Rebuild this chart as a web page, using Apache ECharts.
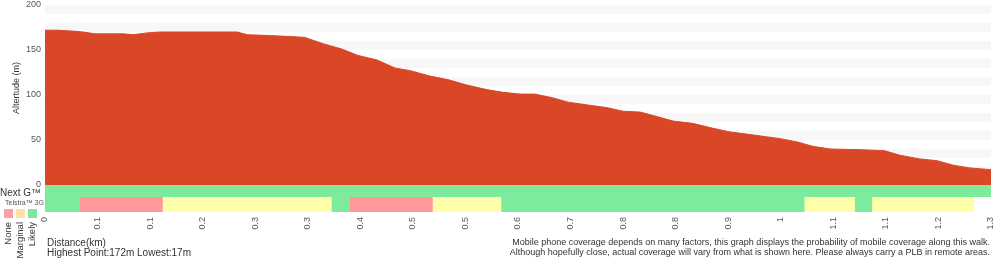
<!DOCTYPE html>
<html lang="en">
<head>
    <meta charset="UTF-8">
    <title>elevation</title>
    <script src="https://cdn.jsdelivr.net/npm/echarts@6/dist/echarts.min.js"></script>
    <style>
        body { margin: 0; background: #fff; }
        #main { width: 1000px; height: 260px; }
    </style>
</head>
<body>
    <div id="main"></div>
    <script type="text/javascript">
        // distance (km) along the walk
        var distances = [0, 0.018, 0.037, 0.052, 0.069, 0.107, 0.121, 0.140, 0.158, 0.264,
            0.278, 0.309, 0.337, 0.357, 0.382, 0.408, 0.430, 0.456, 0.481, 0.502,
            0.529, 0.554, 0.580, 0.607, 0.629, 0.653, 0.673, 0.697, 0.719, 0.745,
            0.772, 0.794, 0.818, 0.841, 0.863, 0.890, 0.918, 0.941, 0.969, 1.010,
            1.033, 1.055, 1.079, 1.130, 1.154, 1.175, 1.202, 1.226, 1.248, 1.271, 1.3];
        // altitude (m)
        var altitudes = [172, 172, 171, 170, 168, 168, 167, 169, 170, 170,
            167, 166, 165, 164, 157, 151, 144, 139, 130, 127,
            121, 117, 111, 106, 103, 101, 101, 97, 92, 89,
            86, 82, 81, 76, 71, 68.5, 63, 59, 56, 51.5,
            48, 43, 40, 39, 38, 33, 29, 27, 22, 19, 17];

        var tickLabels = ['0', '0.1', '0.1', '0.2', '0.3', '0.3', '0.4', '0.5', '0.5', '0.6',
            '0.7', '0.8', '0.8', '0.9', '1', '1.1', '1.1', '1.2', '1.3'];

        // coverage: [from km, to km, level]  level 0 none, 1 marginal, 2 likely
        var nextG = [[0, 1.3, 2]];
        var telstra3G = [[0, 0.047, 2], [0.047, 0.162, 0], [0.162, 0.394, 1], [0.394, 0.418, 2],
            [0.418, 0.533, 0], [0.533, 0.627, 1], [0.627, 1.044, 2], [1.044, 1.113, 1],
            [1.113, 1.137, 2], [1.137, 1.277, 1]];

        var levelColors = ['#ff9999', '#ffffaa', '#7deb9b'];
        var legendColors = ['#ffa0a0', '#ffe0a4', '#80e89c'];
        var legendNames = ['None', 'Marginal', 'Likely'];

        var font = '"Liberation Sans", Arial, Helvetica, sans-serif';

        var myChart = echarts.init(document.getElementById('main'));

        function bandItem(params, api) {
            var start = api.coord([api.value(0), 0]);
            var end = api.coord([api.value(1), 0]);
            var h = api.size([0, 1])[1];
            return {
                type: 'rect',
                shape: { x: start[0], y: start[1] - h / 2, width: end[0] - start[0], height: h },
                style: { fill: levelColors[api.value(2)] }
            };
        }

        var graphics = [
            { type: 'text', x: 17, y: 88, rotation: Math.PI / 2,
              style: { text: 'Altertude (m)', font: '9px ' + font, fill: '#333', align: 'center', verticalAlign: 'middle' } },
            { type: 'text', x: 0, y: 193,
              style: { text: 'Next G™', font: '10px ' + font, fill: '#333', verticalAlign: 'middle' } },
            { type: 'text', x: 5, y: 203,
              style: { text: 'Telstra™ 3G', font: '7px ' + font, fill: '#555', verticalAlign: 'middle' } },
            { type: 'text', x: 47, y: 243,
              style: { text: 'Distance(km)', font: '10px ' + font, fill: '#333', verticalAlign: 'middle' } },
            { type: 'text', x: 47, y: 253,
              style: { text: 'Highest Point:172m Lowest:17m', font: '10px ' + font, fill: '#333', verticalAlign: 'middle' } },
            { type: 'text', x: 990, y: 243,
              style: { text: 'Mobile phone coverage depends on many factors, this graph displays the probability of mobile coverage along this walk.', font: '9px ' + font, fill: '#333', align: 'right', verticalAlign: 'middle' } },
            { type: 'text', x: 990, y: 253,
              style: { text: 'Although hopefully close, actual coverage will vary from what is shown here. Please always carry a PLB in remote areas.', font: '9px ' + font, fill: '#333', align: 'right', verticalAlign: 'middle' } }
        ];
        legendNames.forEach(function (name, i) {
            graphics.push({ type: 'rect', shape: { x: 4 + i * 12, y: 209, width: 9, height: 9 },
                style: { fill: legendColors[i] } });
            graphics.push({ type: 'text', x: 8 + i * 12, y: 222, rotation: Math.PI / 2,
                style: { text: name, font: '9.5px ' + font, fill: '#333', align: 'right', verticalAlign: 'middle' } });
        });

        var option = {
            backgroundColor: '#fff',
            animation: false,
            textStyle: { fontFamily: font },
            graphic: graphics,
            grid: [
                { left: 45, right: 9, top: 5, height: 180 },
                { left: 45, right: 9, top: 185, height: 12 },
                { left: 45, right: 9, top: 197, height: 15 }
            ],
            xAxis: [
                { gridIndex: 0, type: 'value', min: 0, max: 1.3, show: false },
                { gridIndex: 1, type: 'value', min: 0, max: 1.3, show: false },
                { gridIndex: 2, type: 'value', min: 0, max: 1.3, show: false, position: 'top' },
                {
                    gridIndex: 2, type: 'category', data: tickLabels, boundaryGap: false, position: 'bottom',
                    axisLine: { show: false }, axisTick: { show: false },
                    axisLabel: { rotate: 90, margin: 5, fontSize: 9, color: '#555', interval: 0, padding: [0, 0, 0, 0] }
                }
            ],
            yAxis: [
                {
                    gridIndex: 0, type: 'value', min: 0, max: 200, interval: 10,
                    axisLine: { show: false }, axisTick: { show: false },
                    splitLine: { show: false },
                    splitArea: { show: true, areaStyle: { color: ['#ffffff', '#f7f7f7'] } },
                    axisLabel: {
                        fontSize: 9, color: '#555', margin: 4,
                        formatter: function (v) { return v % 50 === 0 ? v : ''; }
                    }
                },
                { gridIndex: 1, type: 'category', data: ['Next G'], show: false },
                { gridIndex: 2, type: 'category', data: ['3G'], show: false }
            ],
            series: [
                {
                    type: 'line', xAxisIndex: 0, yAxisIndex: 0,
                    data: distances.map(function (d, i) { return [d, altitudes[i]]; }),
                    symbol: 'none',
                    lineStyle: { color: '#da4727', width: 1 },
                    areaStyle: { color: '#da4727', opacity: 1 }
                },
                {
                    type: 'custom', xAxisIndex: 1, yAxisIndex: 1,
                    renderItem: bandItem, data: nextG, encode: { x: [0, 1] }
                },
                {
                    type: 'custom', xAxisIndex: 2, yAxisIndex: 2,
                    renderItem: bandItem, data: telstra3G, encode: { x: [0, 1] }
                }
            ]
        };

        myChart.setOption(option);
    </script>
</body>
</html>
